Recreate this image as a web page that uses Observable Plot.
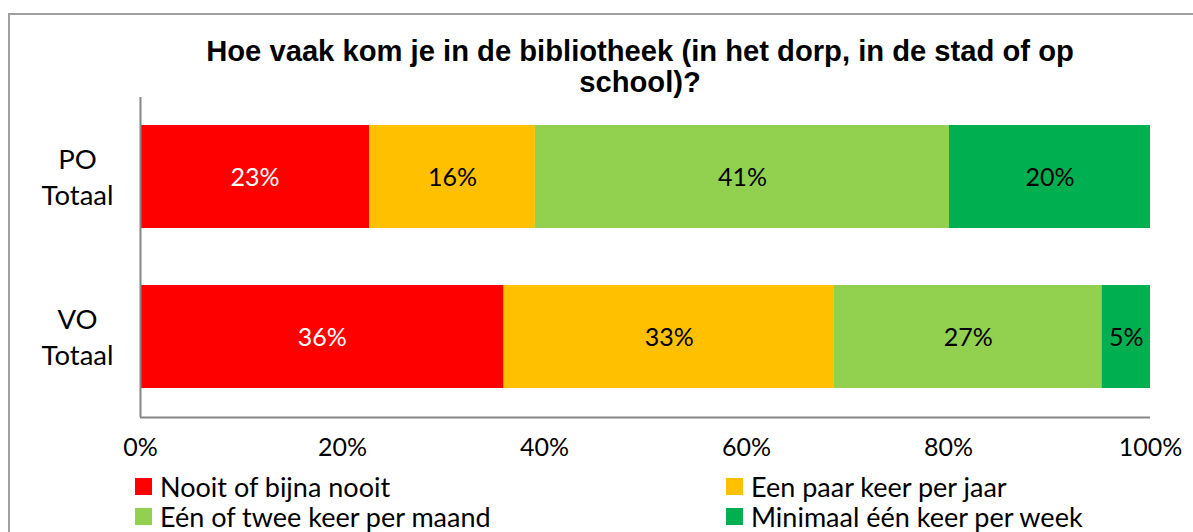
<!DOCTYPE html>
<html>
<head>
<meta charset="utf-8">
<script src="https://cdn.jsdelivr.net/npm/d3@7"></script>
<script src="https://cdn.jsdelivr.net/npm/@observablehq/plot@0.6"></script>
<style>
  html, body { margin: 0; padding: 0; background: #fff; }
  #wrap { position: relative; width: 1193px; height: 532px; overflow: hidden; font-family: Lato, "Noto Sans", sans-serif; }
  #frame { position: absolute; left: 8px; top: 13px; width: 1300px; height: 600px; border: 2px solid #a0a0a0; box-sizing: border-box; }
  #title { position: absolute; left: 90px; width: 1100px; top: 36px; text-align: center; font-family: "Liberation Sans", Arial, sans-serif; font-weight: bold; font-size: 29.2px; line-height: 31px; color: #000; }
  #chart { position: absolute; left: 0; top: 90px; }
  .leg { position: absolute; font-size: 27px; color: #000; white-space: nowrap; display: flex; align-items: center; height: 28px; }
  .leg .sw { width: 17px; height: 17px; margin-right: 8px; display: inline-block; }
</style>
</head>
<body>
<div id="wrap">
  <div id="frame"></div>
  <div id="title">Hoe vaak kom je in de bibliotheek (in het dorp, in de stad of op<br>school)?</div>
  <div id="chart"></div>
  <div id="legend"></div>
</div>
<script>
// Data
const groups = ["PO Totaal", "VO Totaal"];
const categories = ["Nooit of bijna nooit", "Een paar keer per jaar", "Eén of twee keer per maand", "Minimaal één keer per week"];
const colors = ["#FF0000", "#FFC000", "#92D050", "#00B050"];
const poValues = [22.7, 16.4, 41.0, 19.9];
const voValues = [36.0, 32.7, 26.5, 4.8];
const poLabels = ["23%", "16%", "41%", "20%"];
const voLabels = ["36%", "33%", "27%", "5%"];
const xTicks = [0, 20, 40, 60, 80, 100];

const rows = [];
[[groups[0], poValues, poLabels], [groups[1], voValues, voLabels]].forEach(([g, vals, labs]) => {
  vals.forEach((v, i) => rows.push({group: g, cat: categories[i], value: v, label: labs[i], idx: i}));
});

const bodyFont = 'Lato, "Noto Sans", sans-serif';

const chart = Plot.plot({
  width: 1193,
  height: 380,
  marginLeft: 140,
  marginRight: 43,
  marginTop: 7,
  marginBottom: 53,
  style: { fontFamily: bodyFont, fontSize: "25px", color: "#000", background: "transparent" },
  x: { domain: [0, 100] },
  y: { domain: groups, padding: 0 },
  color: { domain: categories, range: colors },
  marks: [
    Plot.barX(rows, Plot.stackX({
      x: "value", y: "group", fill: "cat", order: "idx",
      insetTop: 28, insetBottom: 29
    })),
    Plot.text(rows, Plot.stackX({
      x: "value", y: "group", z: "cat", order: "idx", text: "label",
      fill: d => d.idx === 0 ? "#fff" : "#000",
      fontSize: 25
    })),
    Plot.ruleX([0], { stroke: "#868686", strokeWidth: 2 }),
    Plot.ruleY([groups[groups.length - 1]], { y: d => d, x1: 0, x2: 100, dy: 80, stroke: "#868686", strokeWidth: 2 }),
    Plot.axisX({ ticks: xTicks, tickFormat: d => d + "%", tickSize: 0, tickPadding: 21, fontSize: 25, label: null }),
    Plot.axisY({ tickSize: 0, tickPadding: 63, textAnchor: "middle", tickFormat: d => d.replace(" ", "\n"), lineHeight: 1.32, fontSize: 27.5, dy: -2, label: null })
  ]
});
document.getElementById("chart").appendChild(chart);

// Legend
const legPos = [
  { left: 135, top: 472 },
  { left: 726, top: 472 },
  { left: 135, top: 502 },
  { left: 726, top: 502 }
];
const legend = document.getElementById("legend");
categories.forEach((c, i) => {
  const d = document.createElement("div");
  d.className = "leg";
  d.style.left = legPos[i].left + "px";
  d.style.top = legPos[i].top + "px";
  const sw = document.createElement("span");
  sw.className = "sw";
  sw.style.background = colors[i];
  d.appendChild(sw);
  d.appendChild(document.createTextNode(c));
  legend.appendChild(d);
});
</script>
</body>
</html>
